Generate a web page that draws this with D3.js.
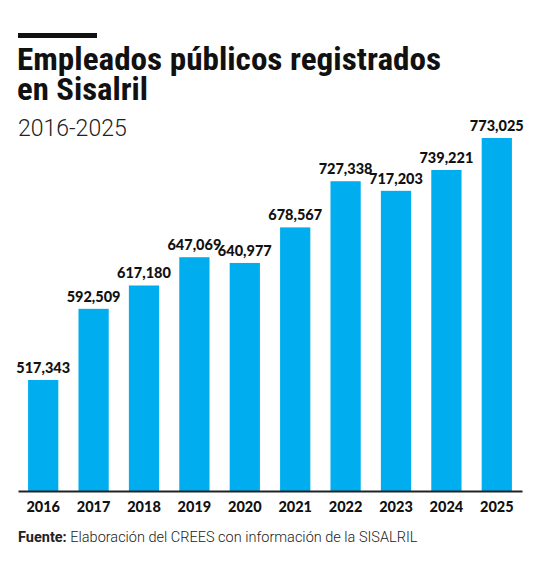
<!DOCTYPE html>
<html><head><meta charset="utf-8">
<script src="https://cdn.jsdelivr.net/npm/d3@7"></script>
<style>body{margin:0;background:#fff}</style></head>
<body><svg id="c" width="545" height="563"></svg>
<script>
const years=["2016","2017","2018","2019","2020","2021","2022","2023","2024","2025"];
const values=[517343,592509,617180,647069,640977,678567,727338,717203,739221,773025];
const svg=d3.select("#c");
const x=d3.scaleBand().domain(years).range([18,522]).paddingInner(0.4).paddingOuter(0.2);
const y=d3.scaleLinear().domain([400000,773025]).range([491,138]);
svg.append("rect").attr("x",18).attr("y",33).attr("width",79).attr("height",5).attr("fill","#111");
const tf="'Liberation Sans Narrow','Roboto Condensed','DejaVu Sans Condensed',sans-serif";
svg.append("text").attr("x",17).attr("y",70).text("Empleados públicos registrados").attr("font-family",tf).attr("font-weight",700).attr("font-size",32).attr("fill","#111").attr("textLength",424).attr("lengthAdjust","spacingAndGlyphs");
svg.append("text").attr("x",17).attr("y",100).text("en Sisalril").attr("font-family",tf).attr("font-weight",700).attr("font-size",32).attr("fill","#111").attr("textLength",131).attr("lengthAdjust","spacingAndGlyphs");
svg.append("text").attr("x",18).attr("y",136).text("2016-2025").attr("font-family","Roboto,sans-serif").attr("font-weight",300).attr("font-size",23).attr("fill","#222");
svg.selectAll(".b").data(years).join("rect").attr("x",d=>x(d)).attr("width",x.bandwidth())
 .attr("y",(d,i)=>y(values[i])).attr("height",(d,i)=>491-y(values[i])).attr("fill","#00AEEF");
svg.selectAll(".v").data(years).join("text").attr("x",d=>x(d)+x.bandwidth()/2).attr("y",(d,i)=>y(values[i])-7)
 .attr("text-anchor","middle").text((d,i)=>d3.format(",")(values[i])).attr("font-family","Lato,sans-serif").attr("font-weight",900).attr("font-size",14.5).attr("fill","#111");
const ax=svg.append("g").attr("transform","translate(0,491)").call(d3.axisBottom(x).tickSize(0).tickPadding(11));
ax.select(".domain").attr("stroke","#222").attr("stroke-width",2);
ax.selectAll("text").attr("font-family","Lato,sans-serif").attr("font-weight",900).attr("font-size",14.5).attr("fill","#111");
const f=svg.append("text").attr("x",18).attr("y",542).attr("font-family","Roboto,sans-serif").attr("font-size",14.5).attr("fill","#222");
f.append("tspan").text("Fuente: ").attr("font-weight",700);
f.append("tspan").text("Elaboración del CREES con información de la SISALRIL").attr("font-weight",300);
</script></body></html>
